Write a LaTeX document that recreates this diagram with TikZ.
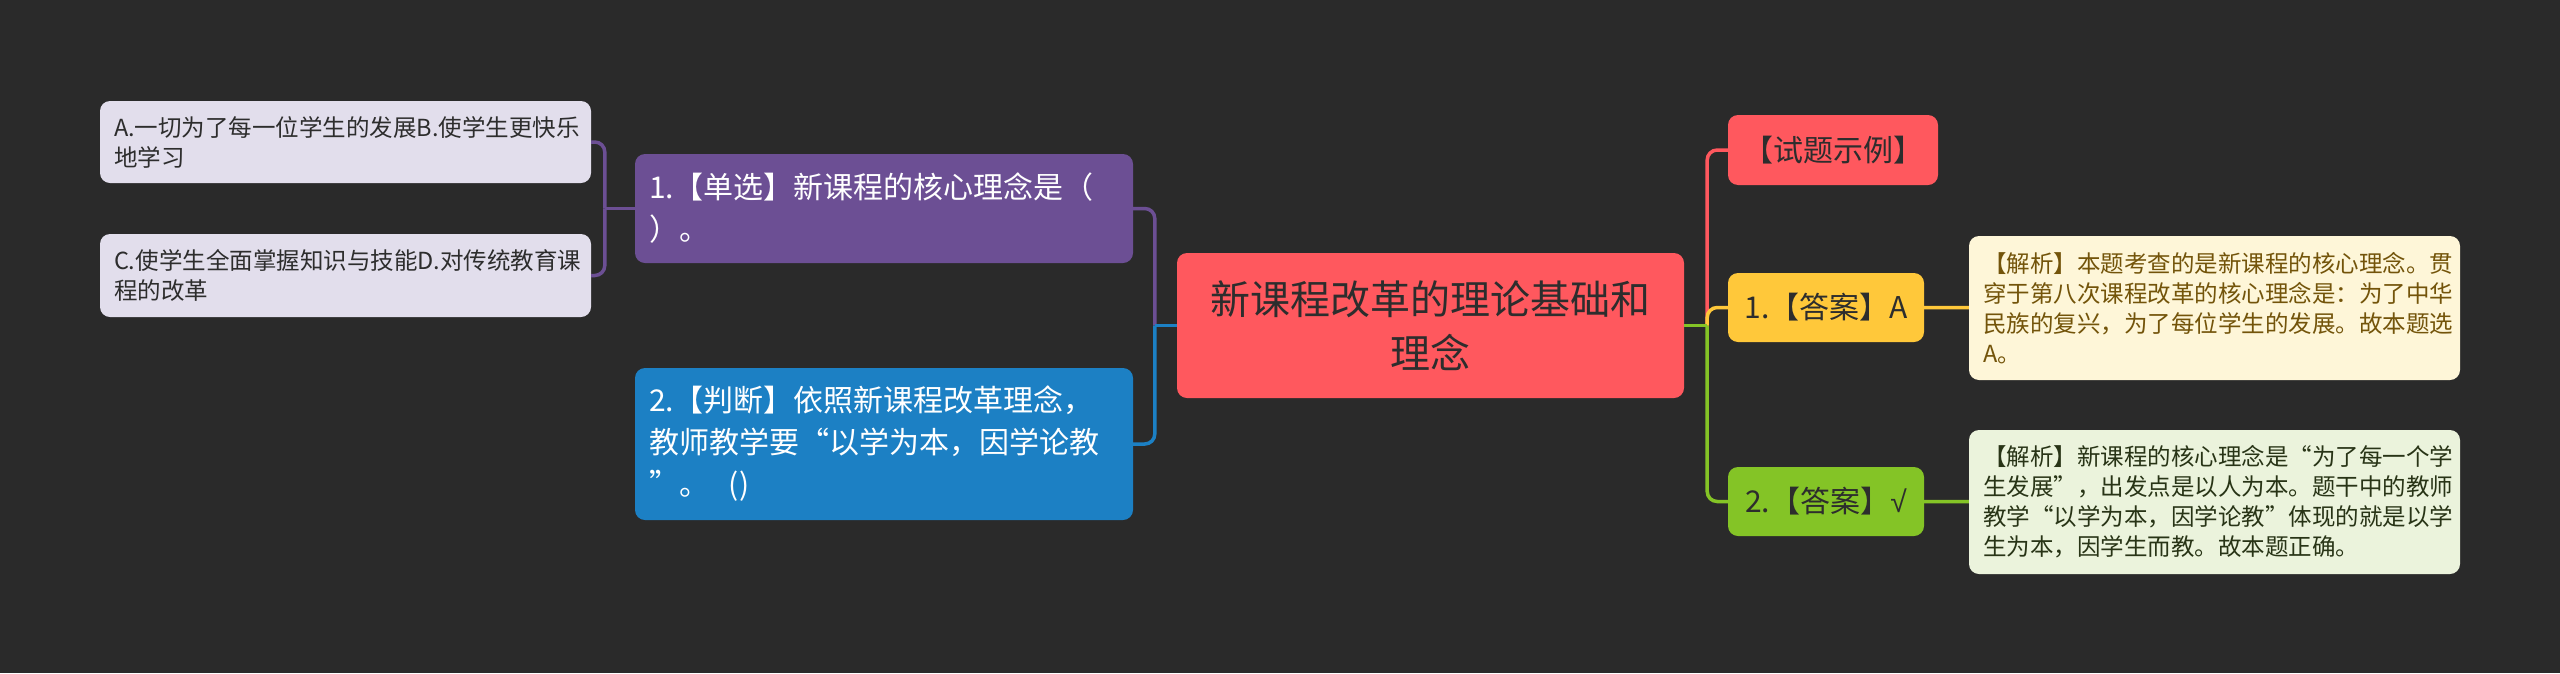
\documentclass[tikz,border=0pt]{standalone}
\usepackage{fontspec}
\newfontfamily\cjk{Noto Sans CJK SC}
\newfontfamily\signe{Liberation Sans}
\definecolor{fond}{RGB}{42,42,42}
\definecolor{rouge}{RGB}{255,88,94}
\definecolor{mauve}{RGB}{108,79,148}
\definecolor{azur}{RGB}{28,128,196}
\definecolor{lilas}{RGB}{226,222,236}
\definecolor{jaune}{RGB}{255,200,58}
\definecolor{vert}{RGB}{132,196,38}
\definecolor{creme}{RGB}{254,246,216}
\definecolor{pistache}{RGB}{235,243,220}
\definecolor{brun}{RGB}{115,84,10}
\definecolor{olive}{RGB}{40,52,22}
\definecolor{encre}{RGB}{45,45,45}
\usepackage{tikz}
\usetikzlibrary{positioning}

\begin{document}
\begin{tikzpicture}[x=1pt,y=-1pt,
		boite/.style={rounded corners=10pt,inner xsep=14pt,inner ysep=0pt},
		grand/.style={font=\cjk\fontsize{30}{42}\selectfont},
		petit/.style={font=\cjk\fontsize{23.5}{30}\selectfont},
		lien/.style={line width=3.5pt,rounded corners=10pt}]
				\fill[fond](0,0) rectangle (2560,673);
				% centre
				\node[boite,fill=rouge,text=encre,text width=479pt,minimum height=145pt,align=center,font=\cjk\fontsize{40}{54}\selectfont] (theme) at (1430.5,325.5){新课程改革的理论基础和\\理念};
				% gauche
				\node[boite,grand,fill=mauve,text=white,text width=470pt,minimum height=109pt,align=left] (danxuan) at (884,208.5){1.【单选】新课程的核心理念是（\\）。};
				\node[boite,grand,fill=azur,text=white,text width=470pt,minimum height=152pt,align=left] (panduan) at (884,444){2.【判断】依照新课程改革理念，\\教师教学要“以学为本，因学论教\\”。\ \ ()};
				\node[boite,petit,fill=lilas,text=encre,text width=463pt,minimum height=82pt,align=left] (optab) at (345.5,142){A.一切为了每一位学生的发展B.使学生更快乐\\地学习};
				\node[boite,petit,fill=lilas,text=encre,text width=463pt,minimum height=83pt,align=left] (optcd) at (345.5,275.5){C.使学生全面掌握知识与技能D.对传统教育课\\程的改革};
				% droite
				\node[boite,grand,fill=rouge,text=encre,minimum width=210pt,minimum height=70pt] (shili) at (1833,150){【试题示例】};
				\node[boite,grand,fill=jaune,text=encre,minimum width=196pt,minimum height=69pt] (daan1) at (1826,307.5){1.【答案】A};
				\node[boite,grand,fill=vert,text=encre,minimum width=196pt,minimum height=69pt] (daan2) at (1826,501.5){2.【答案】{\signe √}};
				\node[boite,petit,fill=creme,text=brun,text width=463pt,minimum height=144pt,align=left] (jiexi1) at (2214.5,308){【解析】本题考查的是新课程的核心理念。贯\\穿于第八次课程改革的核心理念是：为了中华\\民族的复兴，为了每位学生的发展。故本题选\\A。};
				\node[boite,petit,fill=pistache,text=olive,text width=463pt,minimum height=144pt,align=left] (jiexi2) at (2214.5,502){【解析】新课程的核心理念是“为了每一个学\\生发展”，出发点是以人为本。题干中的教师\\教学“以学为本，因学论教”体现的就是以学\\生为本，因学生而教。故本题正确。};
				% liens
				\draw[lien,mauve](theme.west) ++(-22,0) |- (danxuan.east);
				\draw[lien,azur](theme.west) ++(-22,0) |- (panduan.east);
				\draw[lien,azur](theme.west) -- ++(-22,0);
				\draw[lien,mauve](danxuan.west) ++(-30,0) |- (optab.east);
				\draw[lien,mauve](danxuan.west) ++(-30,0) |- (optcd.east);
				\draw[lien,mauve](danxuan.west) -- ++(-30,0);
				\draw[lien,rouge](theme.east) ++(23,0) |- (shili.west);
				\draw[lien,jaune](theme.east) ++(23,0) |- (daan1.west);
				\draw[lien,vert](theme.east) ++(23,0) |- (daan2.west);
				\draw[lien,vert](theme.east) -- ++(23,0);
				\draw[lien,jaune](daan1) -- (jiexi1);
				\draw[lien,vert](daan2) -- (jiexi2);
			\end{tikzpicture}
\end{document}
